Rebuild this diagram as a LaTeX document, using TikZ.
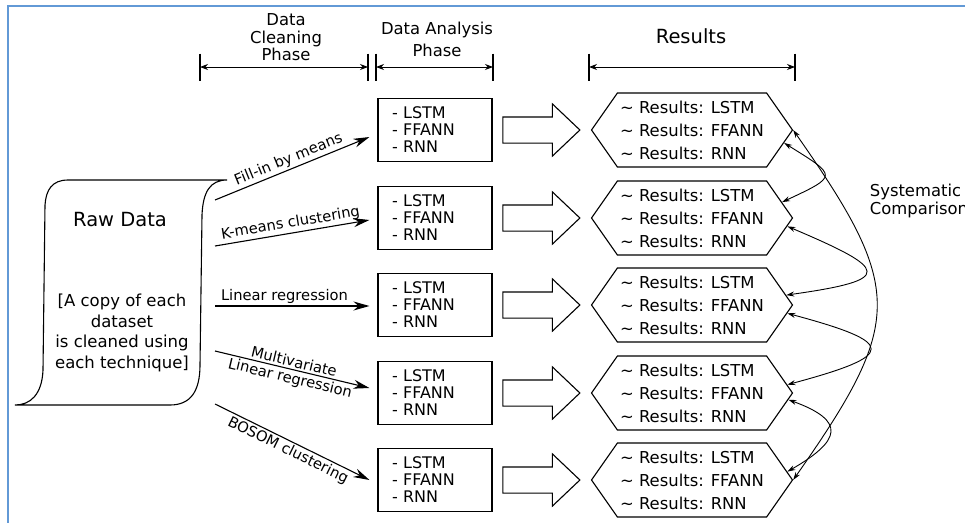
\documentclass[tikz,border=0pt]{standalone}
\usepackage{fontspec}
\setmainfont{DejaVu Sans}
\usetikzlibrary{arrows.meta,positioning,shapes.symbols,shapes.arrows}
\definecolor{framecol}{RGB}{98,153,214}

\begin{document}
\begin{tikzpicture}[x=1pt,y=1pt,line width=1.1pt,
  model/.style={draw, rectangle, minimum width=114, minimum height=63, text width=86, inner xsep=14, inner ysep=0, align=left, font=\fontsize{16}{17}\selectfont},
  result/.style={draw, signal, signal to=west and east, signal pointer angle=110, minimum width=201, minimum height=74, inner sep=0, align=left, font=\fontsize{16.4}{23}\selectfont},
  bigarrow/.style={draw, single arrow, single arrow head extend=13, single arrow tip angle=87, minimum height=77, inner xsep=0, inner ysep=12.5},
  method/.style={-{Stealth[length=16pt,width=9pt]}},
  lab/.style={font=\fontsize{14.7}{17}\selectfont, sloped, inner sep=2pt},
  dimline/.style={line width=0.9pt, {Stealth[length=8pt,width=6pt]}-{Stealth[length=8pt,width=6pt]}},
  compare/.style={line width=0.9pt, {Stealth[length=8pt,width=5pt]}-{Stealth[length=8pt,width=5pt]}},
  head/.style={align=center, font=\fontsize{16.4}{17.5}\selectfont}]
\useasboundingbox (0,0) rectangle (965,-522);
\draw[framecol, line width=2pt] (8,-530) -- (8,-6) -- (970,-6);

% 表头:三个阶段
\coordinate (dc1) at (200,-67); \coordinate (dc2) at (368,-67);
\coordinate (da1) at (376,-67); \coordinate (da2) at (493,-67);
\coordinate (dr1) at (589,-67); \coordinate (dr2) at (795,-67);
\foreach \p in {dc1,dc2,da1,da2,dr1,dr2}
    \draw ([yshift=13.5]\p) -- ([yshift=-13.5]\p);
\draw[dimline] (dc1) -- (dc2);
\draw[dimline] (da1) -- (da2);
\draw[dimline] (dr1) -- (dr2);
\node[head] (hclean) at (286,-37.5) {Data\\Cleaning\\Phase};
\node[head, font=\fontsize{16.4}{22}\selectfont] (hana) at (437,-39) {Data Analysis\\Phase};
\node[head, font=\fontsize{19.5}{22}\selectfont] (hres) at (691,-36) {Results};

% 原始数据
\draw (227,-180) -- (68,-180) .. controls (52,-180) and (46,-190) .. (45,-205)
    -- (43,-370) .. controls (42,-395) and (30,-405) .. (15,-405)
    -- (170,-405) .. controls (190,-405) and (200,-392) .. (200,-365)
    -- (202,-215) .. controls (203,-192) and (210,-180) .. (227,-180);
\node[font=\fontsize{19.5}{22}\selectfont] (raw) at (120,-220) {Raw Data};
\node[align=center, font=\fontsize{16.5}{20.5}\selectfont] (rawnote) at (122,-333)
    {[A copy of each\\dataset\\is cleaned using\\each technique]};

% 模型与结果
\foreach \i/\y in {1/130,2/218,3/305,4/393,5/480} {
    \node[model] (mod\i) at (435,-\y) {- LSTM\\- FFANN\\- RNN};
    \node[bigarrow] (arr\i) at (534.5,-\y) {};
    \node[result] (res\i) at (692,-\y) {\textasciitilde{} Results: LSTM\\\textasciitilde{} Results: FFANN\\\textasciitilde{} Results: RNN};
}

% 清洗方法
\coordinate (m1) at (215,-200);
\coordinate (m2) at (215,-246);
\coordinate (m3) at (215,-306);
\coordinate (m4) at (215,-351);
\coordinate (m5) at (215,-404);
\draw[method] (m1) -- ([xshift=-8,yshift=-7]mod1.west) node[lab,midway,above] {Fill-in by means};
\draw[method] (m2) -- ([xshift=-8,yshift=-2]mod2.west) node[lab,midway,above] {K-means clustering};
\draw[method] (m3) -- ([xshift=-8,yshift=-1]mod3.west) node[lab,pos=0.45,above] {Linear regression};
\draw[method] (m4) -- ([xshift=-8,yshift=5]mod4.west) node[lab,midway,above] {Multivariate}
    node[lab,midway,below] {Linear regression};
\draw[method] (m5) -- ([xshift=-8]mod5.west) node[lab,midway,below] {BOSOM clustering};

% 系统比较
\draw[compare] (res1.east) to[out=-55,in=55,looseness=1.42] (res5.east);
\draw[compare] (res1.-8) to[out=-32,in=25,looseness=2.7] (res2.10);
\draw[compare] (res2.-5) to[out=-23,in=8,looseness=4.1] (res3.6);
\draw[compare] (res3.-5) to[out=-15,in=15,looseness=4.1] (res4.5);
\draw[compare] (res4.-4) to[out=-20,in=30,looseness=2.2] (res5.5);
\node[anchor=west, align=left, font=\fontsize{16.4}{18}\selectfont] (sys) at (866,-201) {Systematic\\Comparison};
\end{tikzpicture}
\end{document}
